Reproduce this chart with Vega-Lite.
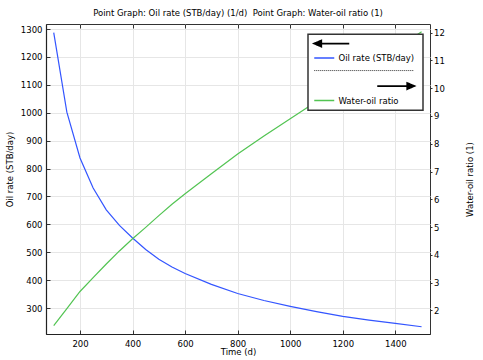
{
  "$schema": "https://vega.github.io/schema/vega-lite/v6.json",
  "width": 384,
  "height": 310,
  "autosize": {"type": "none"},
  "padding": {"left": 46, "top": 24, "right": 53, "bottom": 26},
  "title": {"text": "Point Graph: Oil rate (STB/day) (1/d)\u00a0 Point Graph: Water-oil ratio (1)", "fontSize": 8.5, "fontWeight": "normal", "font": "DejaVu Sans", "offset": 6, "color": "#000"},
  "config": {
    "font": "DejaVu Sans",
    "view": {"stroke": "#333", "strokeWidth": 1},
    "axis": {"labelFont": "DejaVu Sans", "labelFontSize": 8.5, "labelColor": "#000", "titleFont": "DejaVu Sans", "titleFontSize": 8.5, "titleFontWeight": "normal", "titleColor": "#000", "tickColor": "#333", "domainColor": "#222", "gridColor": "#e6e6e6", "gridWidth": 1, "format": "d"}
  },
  "data": {"values": [
    {"t": 100, "series": "Oil rate (STB/day)", "value": 1287},
    {"t": 150, "series": "Oil rate (STB/day)", "value": 1002},
    {"t": 200, "series": "Oil rate (STB/day)", "value": 838},
    {"t": 250, "series": "Oil rate (STB/day)", "value": 730},
    {"t": 300, "series": "Oil rate (STB/day)", "value": 652},
    {"t": 350, "series": "Oil rate (STB/day)", "value": 596},
    {"t": 400, "series": "Oil rate (STB/day)", "value": 551},
    {"t": 450, "series": "Oil rate (STB/day)", "value": 510},
    {"t": 500, "series": "Oil rate (STB/day)", "value": 475},
    {"t": 550, "series": "Oil rate (STB/day)", "value": 447},
    {"t": 600, "series": "Oil rate (STB/day)", "value": 424},
    {"t": 700, "series": "Oil rate (STB/day)", "value": 385},
    {"t": 800, "series": "Oil rate (STB/day)", "value": 352},
    {"t": 900, "series": "Oil rate (STB/day)", "value": 327},
    {"t": 1000, "series": "Oil rate (STB/day)", "value": 306},
    {"t": 1100, "series": "Oil rate (STB/day)", "value": 287},
    {"t": 1200, "series": "Oil rate (STB/day)", "value": 270},
    {"t": 1300, "series": "Oil rate (STB/day)", "value": 257},
    {"t": 1400, "series": "Oil rate (STB/day)", "value": 245},
    {"t": 1500, "series": "Oil rate (STB/day)", "value": 233},
    {"t": 100, "series": "Water-oil ratio", "value": 1.45},
    {"t": 150, "series": "Water-oil ratio", "value": 2.06},
    {"t": 200, "series": "Water-oil ratio", "value": 2.68},
    {"t": 250, "series": "Water-oil ratio", "value": 3.18},
    {"t": 300, "series": "Water-oil ratio", "value": 3.67},
    {"t": 350, "series": "Water-oil ratio", "value": 4.14},
    {"t": 400, "series": "Water-oil ratio", "value": 4.58},
    {"t": 450, "series": "Water-oil ratio", "value": 4.99},
    {"t": 500, "series": "Water-oil ratio", "value": 5.41},
    {"t": 550, "series": "Water-oil ratio", "value": 5.82},
    {"t": 600, "series": "Water-oil ratio", "value": 6.2},
    {"t": 700, "series": "Water-oil ratio", "value": 6.92},
    {"t": 800, "series": "Water-oil ratio", "value": 7.63},
    {"t": 900, "series": "Water-oil ratio", "value": 8.28},
    {"t": 1000, "series": "Water-oil ratio", "value": 8.9},
    {"t": 1100, "series": "Water-oil ratio", "value": 9.52},
    {"t": 1200, "series": "Water-oil ratio", "value": 10.15},
    {"t": 1300, "series": "Water-oil ratio", "value": 10.77},
    {"t": 1400, "series": "Water-oil ratio", "value": 11.4},
    {"t": 1500, "series": "Water-oil ratio", "value": 12.03}
  ]},
  "layer": [
    {
      "transform": [{"filter": "datum.series == 'Oil rate (STB/day)'"}],
      "mark": {"type": "line", "strokeWidth": 1.2},
      "encoding": {
        "x": {"field": "t", "type": "quantitative", "scale": {"domain": [70.6, 1532], "nice": false, "zero": false},
          "axis": {"orient": "bottom", "title": "Time (d)", "values": [200, 400, 600, 800, 1000, 1200, 1400], "grid": true, "tickSize": -4, "labelPadding": 9, "titlePadding": 0, "domainWidth": 1.2}},
        "y": {"field": "value", "type": "quantitative", "scale": {"domain": [207, 1318], "nice": false, "zero": false},
          "axis": {"orient": "left", "title": "Oil rate (STB/day)", "values": [300, 400, 500, 600, 700, 800, 900, 1000, 1100, 1200, 1300], "grid": true, "tickSize": -4, "labelPadding": 8, "titlePadding": 6, "titleY": 145, "domainWidth": 1.2}},
        "color": {"field": "series", "type": "nominal",
          "scale": {"domain": ["a1", "Oil rate (STB/day)", "sep", "a2", "Water-oil ratio"], "range": ["#000000", "#3355ff", "#000000", "#000000", "#52c452"]},
          "legend": {
            "orient": "none", "legendX": 262, "legendY": 10.3, "title": null,
            "fillColor": "#ffffff", "strokeColor": "#333", "padding": 5,
            "symbolSize": 100, "symbolStrokeWidth": 1.5, "labelFontSize": 8.5, "labelFont": "DejaVu Sans", "labelColor": "#000",
            "rowPadding": 3.5, "labelOffset": 17,
            "labelExpr": "datum.value == 'Oil rate (STB/day)' || datum.value == 'Water-oil ratio' ? datum.label : ''",
            "encode": {
              "legend": {"update": {"strokeWidth": {"value": 1.5}}},
              "symbols": {"update": {
              "shape": {"signal": "datum.value == 'a1' ? 'M-0.6,0L0.8,-0.6L0.8,0.6Z M0.4,0L6.4,0' : datum.value == 'a2' ? 'M12,0L18.6,0 M19.4,0L18,-0.6L18,0.6Z' : datum.value == 'sep' ? 'M-0.6,0L19.4,0' : 'M-0.6,0L3.4,0'"},
              "strokeDash": {"signal": "datum.value == 'sep' ? [1, 1] : [1, 0]"},
              "strokeWidth": {"signal": "datum.value == 'a1' || datum.value == 'a2' ? 1.8 : datum.value == 'sep' ? 0.8 : 1.5"},
              "fill": {"signal": "datum.value == 'a1' || datum.value == 'a2' ? '#000' : 'transparent'"}
            }}}
          }}
      }
    },
    {
      "transform": [{"filter": "datum.series == 'Water-oil ratio'"}],
      "mark": {"type": "line", "strokeWidth": 1.2},
      "encoding": {
        "x": {"field": "t", "type": "quantitative", "scale": {"domain": [70.6, 1532], "nice": false, "zero": false},
          "axis": {"orient": "top", "title": null, "labels": false, "values": [200, 400, 600, 800, 1000, 1200, 1400], "grid": false, "tickSize": -4, "domain": false}},
        "y": {"field": "value", "type": "quantitative", "scale": {"domain": [1.15, 12.31], "nice": false, "zero": false},
          "axis": {"orient": "right", "title": "Water-oil ratio (1)", "values": [2, 3, 4, 5, 6, 7, 8, 9, 10, 11, 12], "grid": false, "tickSize": 2, "labelPadding": 1.5, "titlePadding": 30, "titleAngle": 270, "domain": false}},
        "color": {"field": "series", "type": "nominal",
          "scale": {"domain": ["a1", "Oil rate (STB/day)", "sep", "a2", "Water-oil ratio"], "range": ["#000000", "#3355ff", "#000000", "#000000", "#52c452"]}}
      }
    }
  ],
  "resolve": {"scale": {"y": "independent"}, "axis": {"x": "independent"}}
}
